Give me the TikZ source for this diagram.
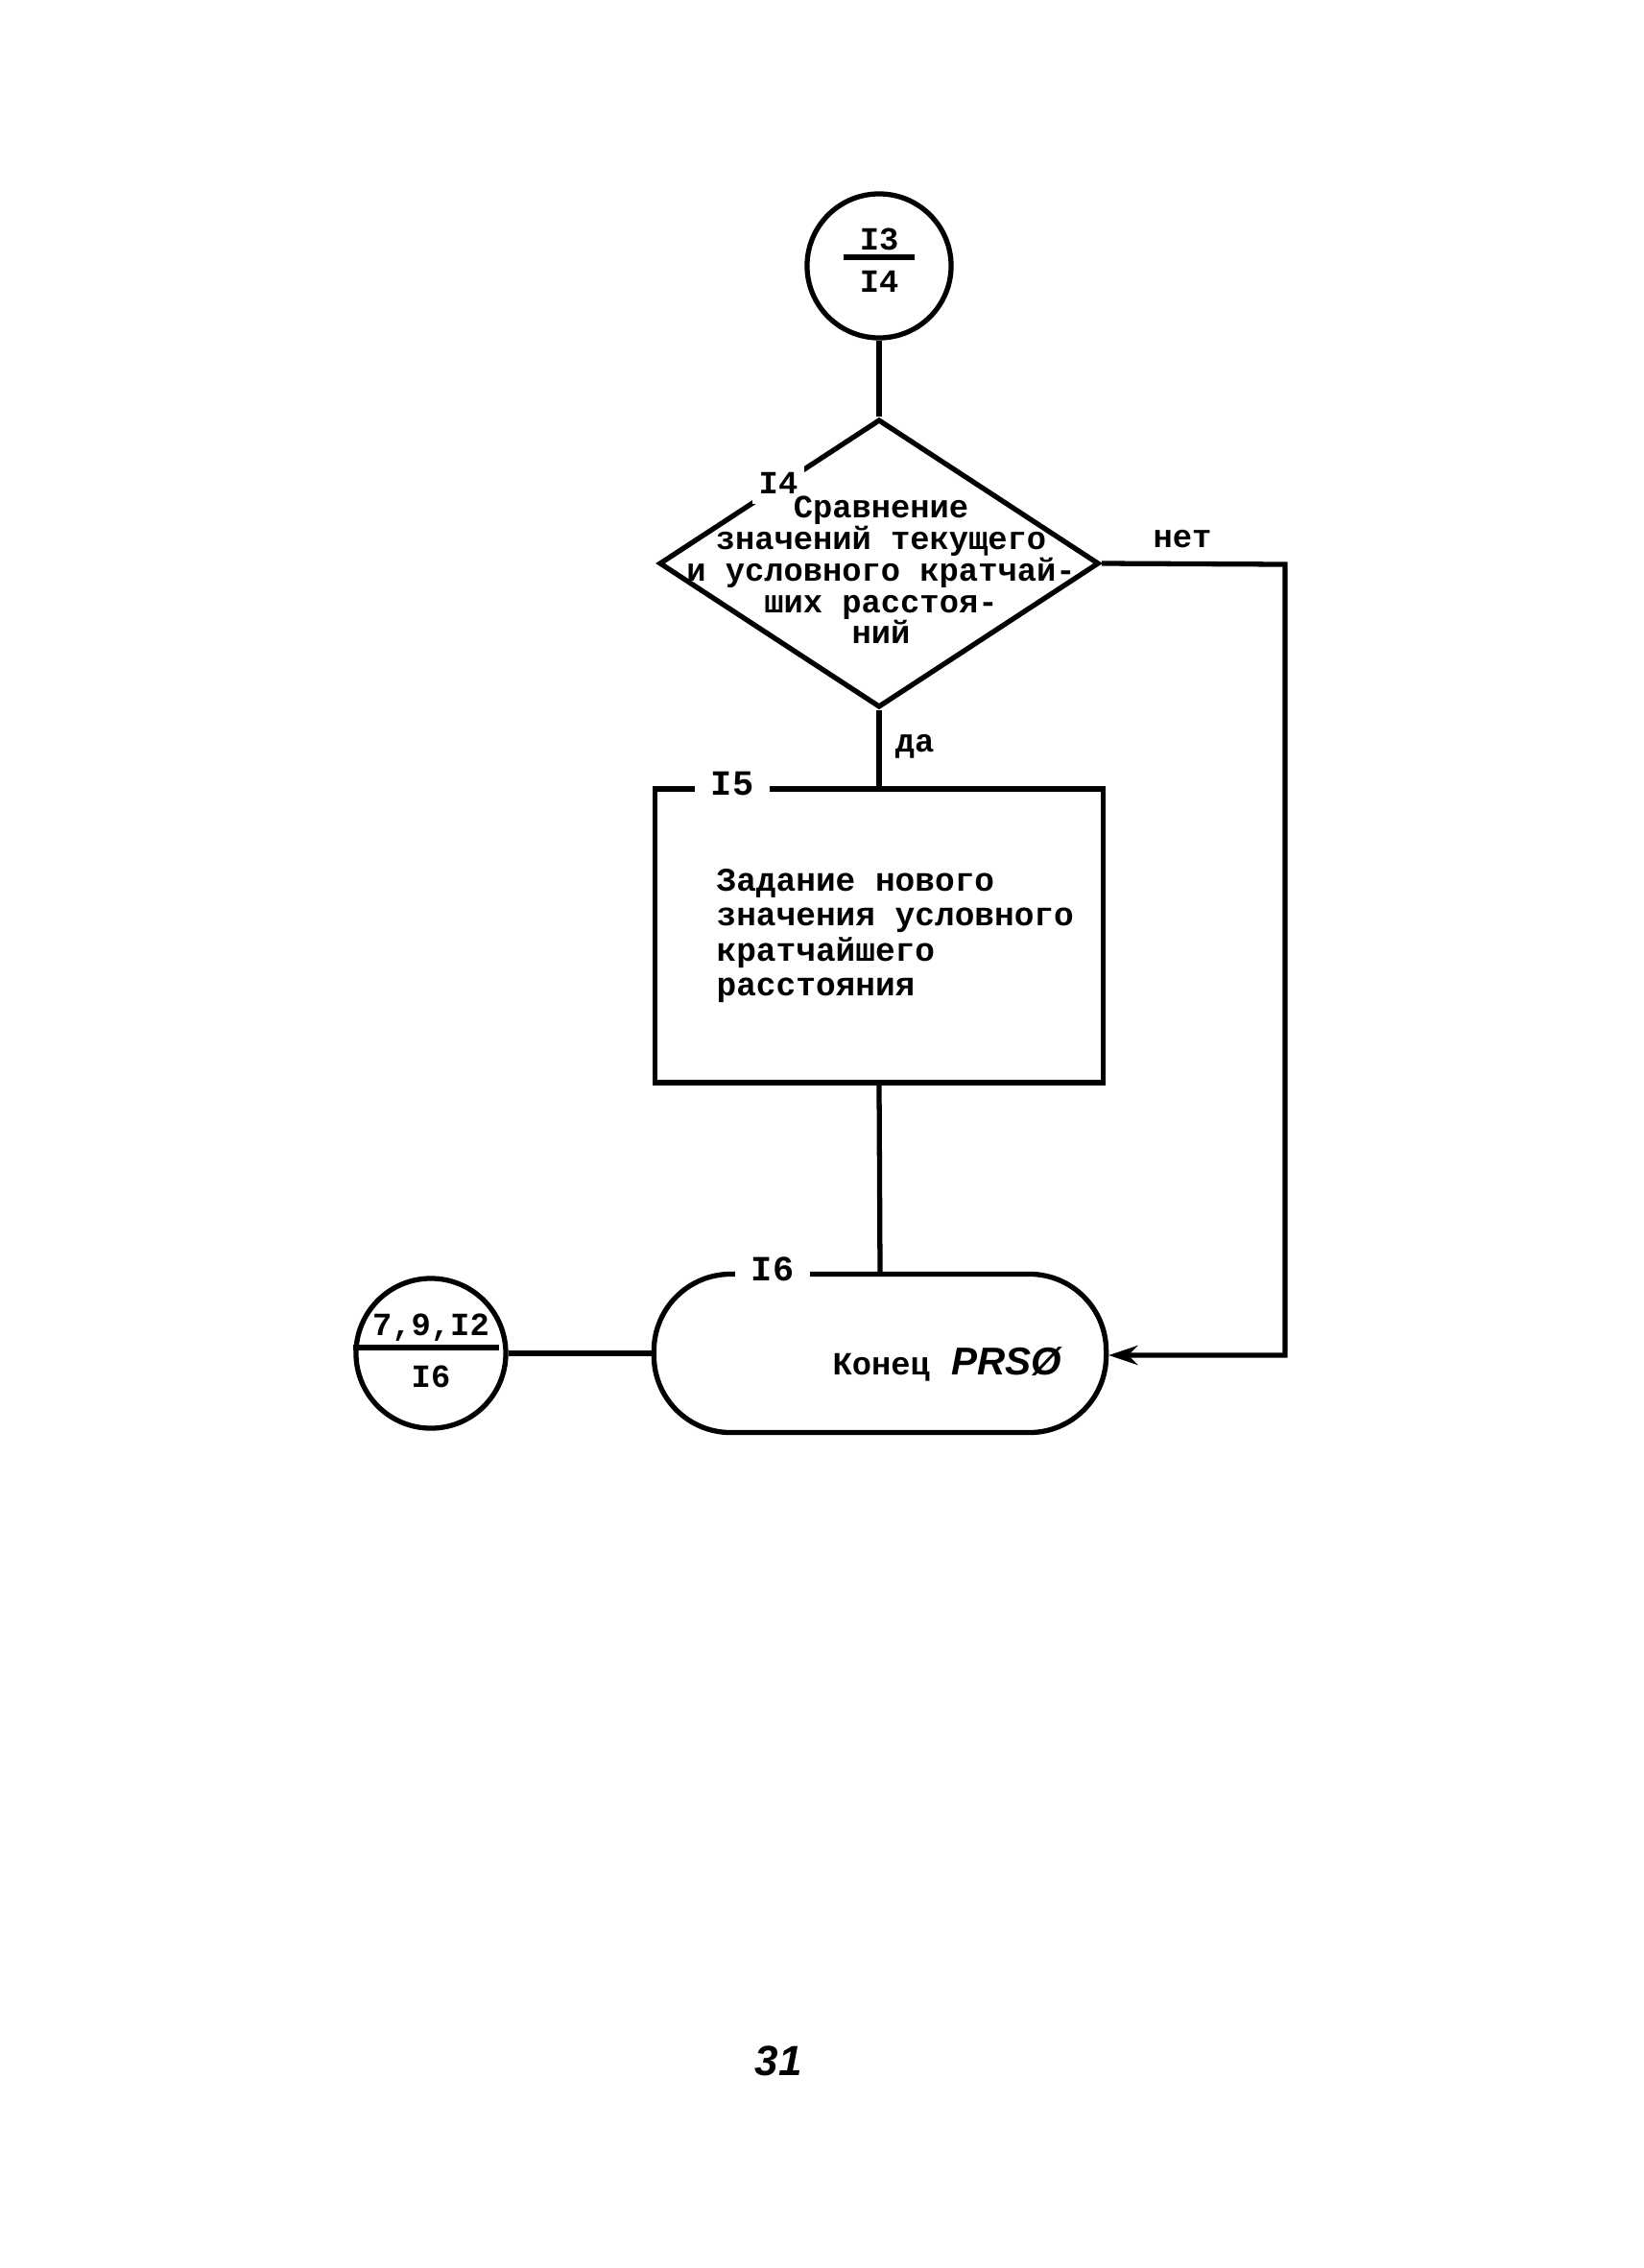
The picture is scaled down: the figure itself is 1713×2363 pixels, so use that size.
\documentclass[tikz,border=0pt]{standalone}
\usepackage{fontspec}
\setmainfont{Liberation Mono}
\newfontfamily\hand{Liberation Sans}
\usetikzlibrary{shapes.geometric,arrows.meta}
\begin{document}
\begin{tikzpicture}[x=0.01cm,y=-0.01cm,line width=1.5pt,
  txt/.style={font=\bfseries\fontsize{9.6}{9.3}\selectfont,inner sep=0pt},
  boxtxt/.style={font=\bfseries\fontsize{9.8}{10.3}\selectfont,inner sep=0pt,align=left},
  lbl/.style={font=\bfseries\fontsize{10.5}{11}\selectfont,fill=white,inner xsep=0.17cm,inner ysep=1pt},
  conn/.style={line width=1.5pt},
  conncircle/.style={circle,draw,inner sep=0pt},
  handtxt/.style={font=\hand\bfseries\itshape\fontsize{11.5}{12}\selectfont,inner sep=0pt}]
\useasboundingbox (0,0) rectangle (1713,2363);
\fill[white] (0,0) rectangle (1713,2363);

% top connector circle
\node[conncircle,minimum size=1.5cm] (c1) at (916,277) {};
\node[txt] (c1a) at (916,249) {I3};
\node[txt] (c1b) at (916,293) {I4};
\draw (879,268) -- (953,268);

% decision
\node[diamond,draw,minimum width=4.58cm,minimum height=3.0cm,inner sep=0pt] (d) at (916,587) {};
\node[txt,fill=white,inner xsep=2pt,inner ysep=3pt] (dnum) at (811,503) {I4};
\node[txt,align=center] (dtext) at (918,594) {Сравнение\\значений текущего\\и условного кратчай-\\ших расстоя-\\ний};

% process box
\node[draw,minimum width=4.67cm,minimum height=3.06cm,inner sep=0pt] (r) at (916,975) {};
\node[lbl] (rnum) at (763,817) {I5};
\node[boxtxt,anchor=west] (rtext) at (744,975) {Задание нового\\значения условного\\кратчайшего\\расстояния};

% terminator
\node[draw,rounded corners=0.8cm,minimum width=4.71cm,minimum height=1.65cm,inner sep=0pt] (t) at (917,1410) {};
\node[lbl] (tnum) at (805,1322) {I6};
\node[txt,anchor=west] (ttext) at (865,1425) {Конец};
\node[handtxt] (tprs) at (1049,1419) {PRSØ};

% left connector circle
\node[conncircle,minimum size=1.56cm] (c2) at (449,1410) {};
\node[txt] (c2a) at (449,1383) {7,9,I2};
\node[txt] (c2b) at (449,1434) {I6};
\draw ([yshift=0.06cm]c2.west) -- ([xshift=-0.1cm,yshift=0.06cm]c2.east);

% connectors
\coordinate (k1) at (1339,588);
\coordinate (k2) at (1339,1412);
\draw[conn] (c1.south) -- (d.north);
\draw[conn] (d.south) -- (r.north);
\draw[conn] (r.south) -- (t.north);
\draw[conn] (c2.east) -- (t.west);
\draw[conn,-{Stealth[length=0.3cm,width=0.2cm]}] (d.east) -- (k1) -- (k2) -- (t.east |- k2);

% branch labels
\node[txt] (no) at (1232,562) {нет};
\node[txt] (yes) at (953,778) {да};

% page number
\node[handtxt,font=\hand\bfseries\itshape\fontsize{12.5}{13}\selectfont] (page) at (811,2147) {31};
\end{tikzpicture}
\end{document}
